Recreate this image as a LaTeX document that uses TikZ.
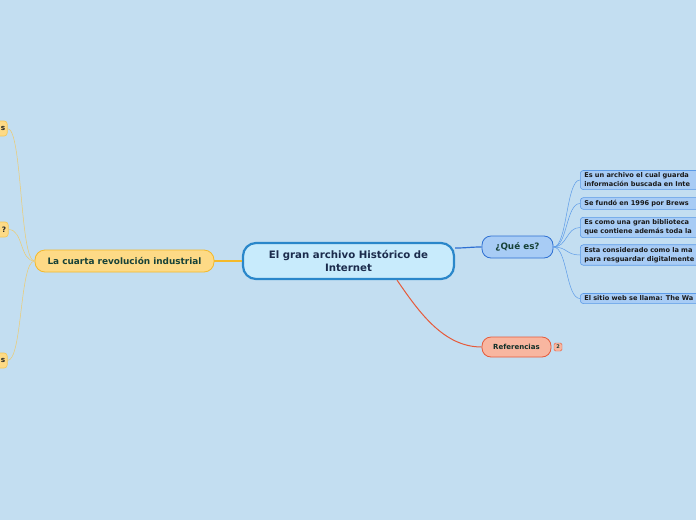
\documentclass[tikz,border=0pt]{standalone}
\usepackage{fontspec}
\setmainfont{DejaVu Sans}
\usetikzlibrary{positioning}
\definecolor{Bg}{HTML}{C3DEF1}
\definecolor{CoreFill}{HTML}{C8EBFC}
\definecolor{CoreLine}{HTML}{2A87CA}
\definecolor{CoreText}{HTML}{1B2B4C}
\definecolor{TopicFill}{HTML}{A8CCF5}
\definecolor{TopicLine}{HTML}{2D6FD2}
\definecolor{SubLine}{HTML}{5C9BE8}
\definecolor{RefFill}{HTML}{F8B6A0}
\definecolor{RefLine}{HTML}{E65A3A}
\definecolor{GoldFill}{HTML}{FDDA86}
\definecolor{GoldLine}{HTML}{F4B92A}
\definecolor{GoldThin}{HTML}{EDCB70}
\definecolor{DarkGreen}{HTML}{174238}
\tikzset{
  subbox/.style={draw=SubLine,fill=TopicFill,line width=0.6pt,rounded corners=3pt,
    anchor=west,text width=160pt,align=left,inner xsep=4pt,inner ysep=2.5pt,
    font=\fontsize{6.6}{9}\selectfont\bfseries,text=black!90},
  leftbox/.style={draw=GoldLine!80,fill=GoldFill,line width=0.6pt,rounded corners=3pt,
    anchor=east,text width=30pt,align=right,minimum height=15pt,inner xsep=2pt,
    font=\fontsize{7.4}{8}\selectfont\bfseries,text=black!85},
  subedge/.style={SubLine,line width=0.5pt},
  leftedge/.style={GoldThin,line width=0.5pt}
}
\begin{document}
\begin{tikzpicture}[x=1pt,y=-1pt,every node/.style={align=center}]
  \useasboundingbox (0,0) rectangle (696,520);
  \clip (0,0) rectangle (696,520);
  \fill[Bg] (0,0) rectangle (696,520);
  % main nodes
  \node[draw=CoreLine,fill=CoreFill,line width=2.2pt,rounded corners=13pt,minimum width=211pt,minimum height=36pt,
    text=CoreText,font=\fontsize{10.2}{12.5}\selectfont\bfseries] (core) at (348.5,261) {El gran archivo Histórico de\\Internet};
  \node[draw=TopicLine,fill=TopicFill,line width=0.8pt,rounded corners=9pt,minimum width=71pt,minimum height=22pt,
    text=DarkGreen,font=\fontsize{8.8}{10}\selectfont\bfseries] (quees) at (517.5,247) {¿Qué es?};
  \node[draw=RefLine,fill=RefFill,line width=0.8pt,rounded corners=9pt,minimum width=69pt,minimum height=20pt,
    text=DarkGreen!70!black,font=\fontsize{7}{8}\selectfont\bfseries] (refs) at (516.5,347) {Referencias};
  \node[draw=RefLine,fill=RefFill,line width=0.4pt,rounded corners=1.5pt,minimum width=8pt,minimum height=8pt,inner sep=0pt,
    text=DarkGreen,font=\fontsize{5}{5}\selectfont\bfseries] (badge) at (558,347) {2};
  \node[draw=GoldLine,fill=GoldFill,line width=0.8pt,rounded corners=10pt,minimum width=179pt,minimum height=22pt,
    text=DarkGreen,font=\fontsize{8.9}{10}\selectfont\bfseries] (cuarta) at (124.5,261) {La cuarta revolución industrial};
  % right side
  \node[subbox] (r1) at (580,180) {Es un archivo el cual guarda\\información buscada en Inte};
  \node[subbox] (r2) at (580,203.5) {Se fundó en 1996 por Brews};
  \node[subbox] (r3) at (580,227.5) {Es como una gran biblioteca\\que contiene además toda la};
  \node[subbox] (r4) at (580,255) {Esta considerado como la ma\\para resguardar digitalmente};
  \node[subbox] (r5) at (580,298.5) {El sitio web se llama: The Wa};
  % left side
  \node[leftbox] (l1) at (7.5,128.5) {s};
  \node[leftbox] (l2) at (8.5,229.5) {?};
  \node[leftbox] (l3) at (7.5,360.5) {s};
  % connectors
  \draw[TopicLine,line width=1.2pt] ([yshift=13pt]core.east) .. controls +(12,0) and +(-12,0) .. (quees.west);
  \draw[RefLine,line width=1pt] ([xshift=48.5pt]core.south) .. controls +(22,32) and +(-38,0) .. (refs.west);
  \draw[GoldLine,line width=1.2pt] (core.west) -- (cuarta.east);
  \foreach \n in {r1,r2,r3,r4,r5}
    \draw[subedge] (quees.east) .. controls +(14,0) and +(-14,0) .. (\n.west);
  \foreach \n in {l1,l2,l3}
    \draw[leftedge] (cuarta.west) .. controls +(-15,0) and +(15,0) .. (\n.east);
\end{tikzpicture}
\end{document}
